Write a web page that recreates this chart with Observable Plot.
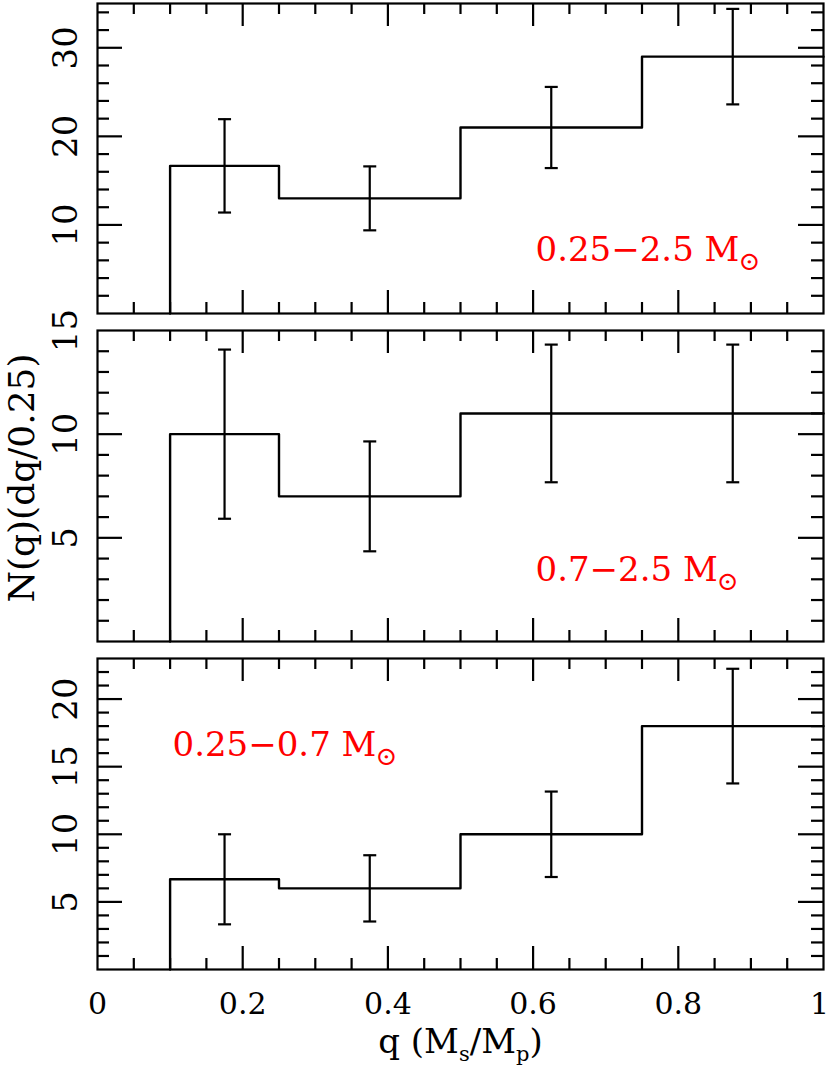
<!DOCTYPE html>
<html><head><meta charset="utf-8">
<script src="https://cdn.jsdelivr.net/npm/d3@7"></script>
<script src="https://cdn.jsdelivr.net/npm/@observablehq/plot@0.6"></script>
<style>
body{margin:0;background:#fff;}
#chart{width:830px;height:1071px;position:relative;}
#chart svg{display:block;overflow:visible;}
</style></head><body><div id="chart"></div>
<script>
// ---- data ----
const binEdges = [0.1, 0.25, 0.5, 0.75, 1.0];
const binCenters = [0.175, 0.375, 0.625, 0.875];
const panelLabels = ["0.25−2.5 M⊙", "0.7−2.5 M⊙", "0.25−0.7 M⊙"];
const valuesAll = [16.67, 13, 21, 29];
const errorsAll = [5.27, 3.61, 4.58, 5.39];
const valuesHigh = [10, 7, 11, 11];
const errorsHigh = [4.08, 2.65, 3.32, 3.32];
const valuesLow = [6.67, 6, 10, 18];
const errorsLow = [3.33, 2.45, 3.16, 4.24];
const xTickLabels = [0, 0.2, 0.4, 0.6, 0.8, 1];
const yTickLabels1 = [10, 20, 30];
const yTickLabels2 = [5, 10, 15];
const yTickLabels3 = [5, 10, 15, 20];
const yDomain1 = [0, 35];
const yDomain2 = [0, 15];
const yDomain3 = [0, 23];
const yTitle = "N(q)(dq/0.25)";
const xTitle = "q (Ms/Mp)";

// ---- layout / style ----
const FONT = "DejaVu Serif";
const W = 830, ML = 97, MR = 7;
const capSymbol = {draw(ctx, size) { const r = Math.sqrt(size / Math.PI); ctx.moveTo(-r, 0); ctx.lineTo(r, 0); }};

const panels = [
  {values: valuesAll, errors: errorsAll, domain: yDomain1, labels: yTickLabels1, major: 10, minor: 2,
   height: 321, mt: 3, mb: 8, label: panelLabels[0], ldx: 438, ldy: -53},
  {values: valuesHigh, errors: errorsHigh, domain: yDomain2, labels: yTickLabels2, major: 5, minor: 1,
   height: 328, mt: 9, mb: 8, label: panelLabels[1], ldx: 438, ldy: -61, ytitle: true},
  {values: valuesLow, errors: errorsLow, domain: yDomain3, labels: yTickLabels3, major: 5, minor: 1,
   height: 422, mt: 9, mb: 102, label: panelLabels[2], ldx: 75, ldy: -214, xaxis: true}
];

function stepData(values) {
  const pts = [{x: binEdges[0], y: 0}];
  values.forEach((v, i) => pts.push({x: binEdges[i], y: v}));
  pts.push({x: binEdges[binEdges.length - 1], y: values[values.length - 1]});
  return pts;
}

const eps = 1e-6;
const xMajor = [0.2, 0.4, 0.6, 0.8];
const xMinor = d3.range(1, 20).map(i => i * 0.05).filter(v => !xMajor.some(m => Math.abs(m - v) < eps));

function makePanel(p) {
  const PW = W - ML - MR;
  const PH = p.height - p.mt - p.mb;
  const yMajor = d3.range(p.major, p.domain[1] + eps, p.major).filter(v => v < p.domain[1] - eps);
  const yMinor = d3.range(p.minor, p.domain[1] - eps, p.minor).filter(v => Math.abs(v / p.major - Math.round(v / p.major)) > eps);
  const bins = binCenters.map((c, i) => ({c, lo: p.values[i] - p.errors[i], hi: p.values[i] + p.errors[i]}));
  const sw = 2.2;
  const marks = [
    Plot.tickX(xMinor, {x: d => d, insetTop: PH - 11, strokeWidth: sw}),
    Plot.tickX(xMinor, {x: d => d, insetBottom: PH - 11, strokeWidth: sw}),
    Plot.tickX(xMajor, {x: d => d, insetTop: PH - 23, strokeWidth: sw}),
    Plot.tickX(xMajor, {x: d => d, insetBottom: PH - 23, strokeWidth: sw}),
    Plot.tickY(yMinor, {y: d => d, insetRight: PW - 12, strokeWidth: sw}),
    Plot.tickY(yMinor, {y: d => d, insetLeft: PW - 12, strokeWidth: sw}),
    Plot.tickY(yMajor, {y: d => d, insetRight: PW - 25, strokeWidth: sw}),
    Plot.tickY(yMajor, {y: d => d, insetLeft: PW - 25, strokeWidth: sw}),
    Plot.line(stepData(p.values), {x: "x", y: "y", curve: "step-after", stroke: "black", strokeWidth: 2.4}),
    Plot.ruleX(bins, {x: "c", y1: "lo", y2: "hi", strokeWidth: 2.2}),
    Plot.dot(bins, {x: "c", y: "lo", symbol: capSymbol, r: 6.5, stroke: "black", fill: "none", strokeWidth: 2.2}),
    Plot.dot(bins, {x: "c", y: "hi", symbol: capSymbol, r: 6.5, stroke: "black", fill: "none", strokeWidth: 2.2}),
    Plot.frame({stroke: "black", strokeWidth: 2.2}),
    Plot.text(p.labels, {y: d => d, text: d => String(d), frameAnchor: "left", dx: -31, rotate: -90,
      fontSize: 34, lineAnchor: "middle", textAnchor: "middle"}),
    Plot.text([p.label], {text: d => d, frameAnchor: "bottom-left", dx: p.ldx, dy: p.ldy,
      textAnchor: "start", lineAnchor: "bottom", fill: "#ff0000", fontSize: 34})
  ];
  if (p.ytitle) {
    marks.push(Plot.text([yTitle], {text: d => d, frameAnchor: "left", dx: -75, dy: -8, rotate: -90,
      fontSize: 36, lineAnchor: "middle", textAnchor: "middle"}));
  }
  if (p.xaxis) {
    marks.push(Plot.text(xTickLabels, {x: d => d, text: d => String(d), frameAnchor: "bottom", dy: 35,
      fontSize: 30, lineAnchor: "middle", textAnchor: "middle"}));
    marks.push(Plot.text([xTitle], {text: d => d, frameAnchor: "bottom", dy: 83,
      fontSize: 34, lineAnchor: "bottom", textAnchor: "middle"}));
  }
  const svg = Plot.plot({
    width: W, height: p.height,
    marginLeft: ML, marginRight: MR, marginTop: p.mt, marginBottom: p.mb,
    x: {domain: [0, 1], axis: null},
    y: {domain: p.domain, axis: null},
    style: {fontFamily: FONT, background: "transparent", overflow: "visible", color: "black"},
    marks
  });
  // subscripts and small text adjustments
  d3.select(svg).selectAll("text").each(function() {
    const txt = this.textContent;
    const t = d3.select(this);
    if (txt.endsWith("⊙")) {
      t.text(null);
      t.append("tspan").text(txt.slice(0, -1));
      t.append("tspan").attr("font-size", 26).attr("dy", 9).attr("dx", -1).text("⊙");
    } else if (txt === xTitle) {
      t.text(null);
      t.append("tspan").text("q (M");
      t.append("tspan").attr("font-size", 21).attr("dy", 8).text("s");
      t.append("tspan").attr("dy", -8).text("/M");
      t.append("tspan").attr("font-size", 21).attr("dy", 8).text("p");
      t.append("tspan").attr("dy", -8).text(")");
    } else if (p.xaxis && txt === "1" && this.getAttribute("font-size") === null) {
      // keep the right-edge "1" label inside the page
      t.attr("dx", -4);
    }
  });
  return svg;
}

const chart = document.getElementById("chart");
panels.forEach(p => chart.appendChild(makePanel(p)));
</script></body></html>
